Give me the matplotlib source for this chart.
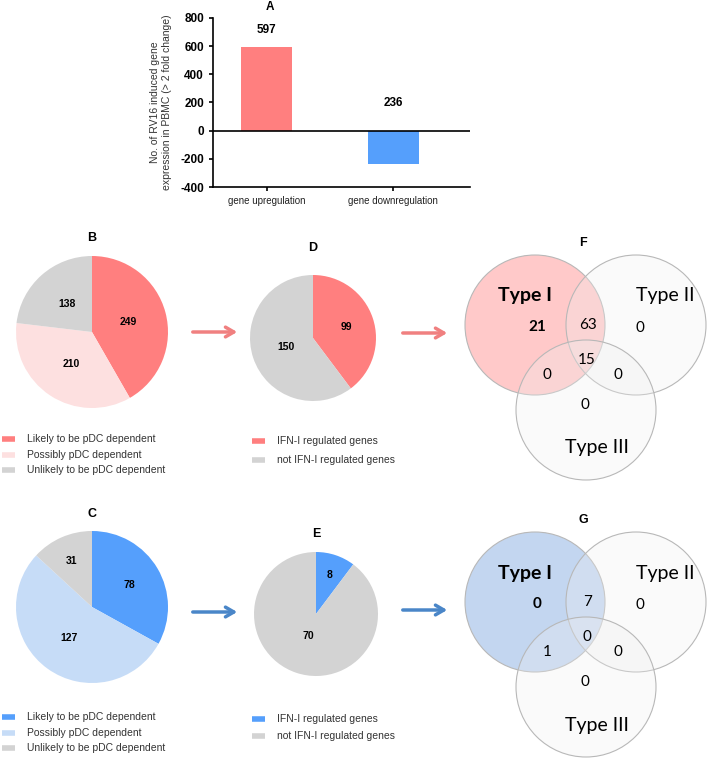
import numpy as np
import matplotlib.pyplot as plt
from matplotlib.patches import Circle

plt.rcParams['font.family'] = ['Liberation Sans', 'DejaVu Sans']
plt.rcParams['axes.unicode_minus'] = False

W, H = 708, 760

# data
bar_cats = ["gene upregulation", "gene downregulation"]
bar_vals = [597, -236]

pie_b = [249, 210, 138]
pie_c = [78, 127, 31]
pie_d = [99, 150]
pie_e = [8, 70]
dep_labels = ["Likely to be pDC dependent", "Possibly pDC dependent", "Unlikely to be pDC dependent"]
ifn_labels = ["IFN-I regulated genes", "not IFN-I regulated genes"]

venn_names = ["Type I", "Type II", "Type III"]
# regions: I only, I&II, II only, I&II&III, I&III, II&III, III only
venn_f = [21, 63, 0, 15, 0, 0, 0]
venn_g = [0, 7, 0, 0, 1, 0, 0]

red = "#ff7f7f"
pink = "#fde0e0"
blue = "#559ffc"
lblue = "#c6dcf7"
grey = "#d3d3d3"

fig = plt.figure(figsize=(W / 100, H / 100), dpi=100)

# pixel overlay for arrows, titles, venns
ov = fig.add_axes([0, 0, 1, 1])
ov.set_xlim(0, W)
ov.set_ylim(H, 0)
ov.axis("off")


def px_axes(x0, y0, x1, y1):
    return fig.add_axes([x0 / W, 1 - y1 / H, (x1 - x0) / W, (y1 - y0) / H])


# ---- A: bar chart
ax = px_axes(213, 18, 470, 187)
ax.bar([0, 1], bar_vals, width=0.4, color=[red, blue], edgecolor="none")
ax.axhline(0, color="black", lw=1.2)
ax.set_ylim(-400, 800)
ax.set_xlim(-0.425, 1.606)
ax.set_yticks(np.arange(-400, 801, 200))
ax.set_xticks([0, 1])
ax.set_xticklabels(bar_cats, fontsize=7, color="#222222")
for lab in ax.get_yticklabels():
    lab.set_fontweight("bold")
    lab.set_fontsize(8.5)
ax.spines["top"].set_visible(False)
ax.spines["right"].set_visible(False)
ax.spines["left"].set_linewidth(1.2)
ax.spines["bottom"].set_linewidth(1.2)
ax.tick_params(width=1.2, length=3)
ax.set_ylabel("No. of RV16 induced gene\nexpression in PBMC (> 2 fold change)", fontsize=7.5,
              labelpad=6, color="#333333")
label_off = [118, -40]
for i, v in enumerate(bar_vals):
    ax.text(i, abs(v) + label_off[i], str(abs(v)), ha="center", va="center",
            fontsize=8.5, fontweight="bold")
ov.text(270, 7, "A", ha="center", va="center", fontsize=8.5, fontweight="bold")


# ---- pies
def draw_pie(cx, cy, r, vals, colors, dists, title, ty):
    a = px_axes(cx - r, cy - r, cx + r, cy + r)
    wedges, _ = a.pie(vals, colors=colors, startangle=90, counterclock=False,
                      radius=1, wedgeprops=dict(edgecolor="none"))
    for w, v, d in zip(wedges, vals, dists):
        ang = np.deg2rad((w.theta1 + w.theta2) / 2)
        a.text(d * np.cos(ang), d * np.sin(ang), str(v), ha="center", va="center",
               fontsize=7.5, fontweight="bold")
    a.set_xlim(-1, 1)
    a.set_ylim(-1, 1)
    a.axis("off")
    ov.text(cx, ty, title, ha="center", va="center", fontsize=9, fontweight="bold")


draw_pie(92, 332, 76, pie_b, [red, pink, grey], [0.5, 0.5, 0.5], "B", 238)
draw_pie(313, 338, 63, pie_d, [red, grey], [0.56, 0.45], "D", 248)
draw_pie(92, 607, 76, pie_c, [blue, lblue, grey], [0.57, 0.51, 0.66], "C", 514)
draw_pie(316, 614, 62, pie_e, [blue, grey], [0.67, 0.37], "E", 534)


# ---- legends
def draw_legend(x, y0, dy, labels, colors):
    for i, (lab, c) in enumerate(zip(labels, colors)):
        y = y0 + i * dy
        ov.plot([x, x + 13], [y, y], color=c, lw=4, solid_capstyle="butt")
        ov.text(x + 25, y, lab, ha="left", va="center", fontsize=7.5, color="#333333")


draw_legend(2, 439, 15.5, dep_labels, [red, pink, grey])
draw_legend(252, 441, 19, ifn_labels, [red, grey])
draw_legend(2, 717, 15.5, dep_labels, [blue, lblue, grey])
draw_legend(252, 719, 17, ifn_labels, [blue, grey])


# ---- arrows
def arrow(x0, x1, y, c):
    ov.annotate("", xy=(x1, y), xytext=(x0, y),
                arrowprops=dict(arrowstyle="->,head_length=0.6,head_width=0.35", color=c, lw=2.5))


arrow(190, 240, 332, "#f08080")
arrow(400, 450, 333, "#f08080")
arrow(190, 240, 612, "#4a86c8")
arrow(400, 450, 610, "#4a86c8")


# ---- venns
vfont = ['Lato', 'DejaVu Sans']


def draw_venn(cy, vals, fill, title):
    centers = [(535, cy), (636, cy), (586, cy + 85)]
    for j, (cx, ccy) in enumerate(centers):
        fc = fill if j == 0 else "#f0f0f0"
        al = 0.36 if j == 0 else 0.3
        ov.add_patch(Circle((cx, ccy), 70, facecolor=fc, alpha=al, edgecolor="none"))
        ov.add_patch(Circle((cx, ccy), 70, facecolor="none", edgecolor="#b8b8b8", lw=0.8))
    ov.text(583, cy - 82, title, ha="center", va="center", fontsize=9, fontweight="bold")
    ov.text(525, cy - 29, venn_names[0], ha="center", va="center", fontsize=14,
            fontweight="bold", family=vfont)
    ov.text(665, cy - 29, venn_names[1], ha="center", va="center", fontsize=14, family=vfont)
    ov.text(597, cy + 123, venn_names[2], ha="center", va="center", fontsize=14, family=vfont)
    pos = [(537, cy + 2), (588, cy), (640, cy + 3), (587, cy + 35),
           (547, cy + 50), (618, cy + 50), (585, cy + 80)]
    for k, ((x, y), v) in enumerate(zip(pos, vals)):
        ov.text(x, y, str(v), ha="center", va="center", fontsize=11, family=vfont,
                fontweight="bold" if k == 0 else "normal")


draw_venn(325, venn_f, "#ff6b6b", "F")
draw_venn(602, venn_g, "#5b8fd6", "G")

fig.savefig("out.png", dpi=100)
